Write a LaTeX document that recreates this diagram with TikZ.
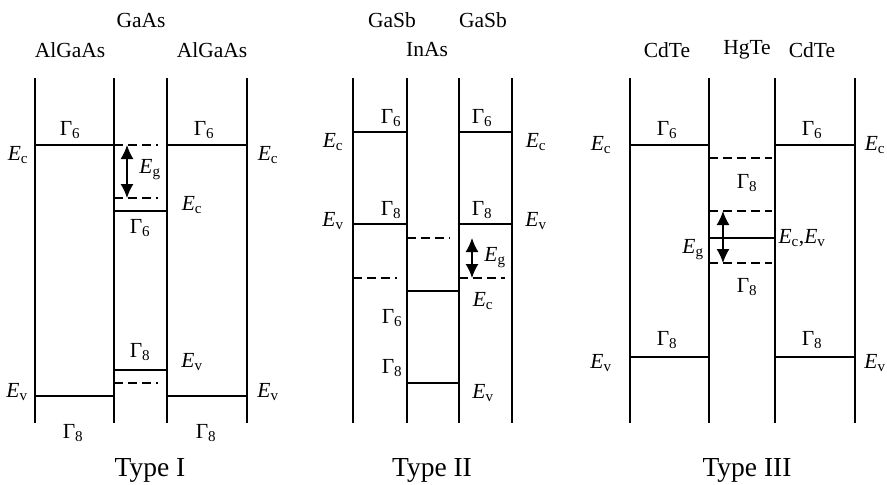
\documentclass[tikz,border=0pt]{standalone}
\usepackage{fontspec}
\setmainfont{Liberation Serif}
\usetikzlibrary{arrows.meta}
\newcommand\Gam[1]{Γ\textsubscript{#1}}
\newcommand\En[1]{\textit{E}\textsubscript{#1}}
\tikzset{
  wall/.style={line width=1.3pt},
  lvl/.style={line width=1.3pt},
  dlvl/.style={line width=1.3pt, dash pattern=on 9pt off 5pt},
  gap/.style={line width=1.5pt, {Latex[length=14pt,width=13pt]}-{Latex[length=14pt,width=13pt]}},
  lab/.style={font=\fontsize{21.5}{25}\selectfont, inner sep=0pt},
  ttl/.style={font=\fontsize{27.5}{32}\selectfont, inner sep=0pt}
}
\begin{document}
\begin{tikzpicture}[x=1pt,y=-1pt]
\useasboundingbox (0,0) rectangle (887,485);

% ---------------- Type I : AlGaAs / GaAs / AlGaAs ----------------
\foreach \x in {35,114,167,247} \draw[wall] (\x,78) -- (\x,423);
\draw[lvl] (35,145) -- (114,145);
\draw[lvl] (167,145) -- (247,145);
\draw[lvl] (114,211) -- (167,211);
\draw[lvl] (114,370) -- (167,370);
\draw[lvl] (35,396) -- (114,396);
\draw[lvl] (167,396) -- (247,396);
\draw[dlvl] (114,145) -- (158,145);
\draw[dlvl] (114,198) -- (158,198);
\draw[dlvl] (114,383) -- (158,383);
\coordinate (g1a) at (127,145);
\coordinate (g1b) at (127,198);
\draw[gap] (g1a) -- (g1b);

\node[lab] (t1m)  at (141,20)  {GaAs};
\node[lab] (t1l)  at (70,50)   {AlGaAs};
\node[lab] (t1r)  at (212,50)  {AlGaAs};
\node[lab] (t1g6l) at (70,130) {\Gam{6}};
\node[lab] (t1g6r) at (204,130) {\Gam{6}};
\node[lab] (t1ecl) at (18,155) {\En{c}};
\node[lab] (t1ecr) at (268,155) {\En{c}};
\node[lab] (t1eg)  at (150,170) {\En{g}};
\node[lab] (t1ecm) at (192,205) {\En{c}};
\node[lab] (t1g6m) at (140,228) {\Gam{6}};
\node[lab] (t1g8m) at (140,352) {\Gam{8}};
\node[lab] (t1evm) at (192,362) {\En{v}};
\node[lab] (t1evl) at (17,392) {\En{v}};
\node[lab] (t1evr) at (268,392) {\En{v}};
\node[lab] (t1g8l) at (73,433) {\Gam{8}};
\node[lab] (t1g8r) at (206,433) {\Gam{8}};
\node[ttl] (t1)    at (150,470) {Type I};

% ---------------- Type II : GaSb / InAs / GaSb ----------------
\foreach \x in {353,407,459,512} \draw[wall] (\x,78) -- (\x,423);
\draw[lvl] (353,132) -- (407,132);
\draw[lvl] (459,132) -- (512,132);
\draw[lvl] (353,224) -- (407,224);
\draw[lvl] (459,224) -- (512,224);
\draw[lvl] (407,291) -- (459,291);
\draw[lvl] (407,383) -- (459,383);
\draw[dlvl] (407,238) -- (450,238);
\draw[dlvl] (353,278) -- (397,278);
\draw[dlvl] (459,278) -- (505,278);
\coordinate (g2a) at (472,238);
\coordinate (g2b) at (472,278);
\draw[gap] (g2a) -- (g2b);

\node[lab] (t2l)  at (392,20) {GaSb};
\node[lab] (t2r)  at (483,20) {GaSb};
\node[lab] (t2m)  at (427,50) {InAs};
\node[lab] (t2g6l) at (391,118) {\Gam{6}};
\node[lab] (t2g6r) at (482,118) {\Gam{6}};
\node[lab] (t2ecl) at (333,142) {\En{c}};
\node[lab] (t2ecr) at (536,142) {\En{c}};
\node[lab] (t2g8l) at (391,210) {\Gam{8}};
\node[lab] (t2g8r) at (482,210) {\Gam{8}};
\node[lab] (t2evl) at (333,221) {\En{v}};
\node[lab] (t2evr) at (536,221) {\En{v}};
\node[lab] (t2eg)  at (495,258) {\En{g}};
\node[lab] (t2ecm) at (483,301) {\En{c}};
\node[lab] (t2g6m) at (392,318) {\Gam{6}};
\node[lab] (t2g8m) at (392,368) {\Gam{8}};
\node[lab] (t2evm) at (483,393) {\En{v}};
\node[ttl] (t2)    at (432,470) {Type II};

% ---------------- Type III : CdTe / HgTe / CdTe ----------------
\foreach \x in {630,709,775,855} \draw[wall] (\x,78) -- (\x,423);
\draw[lvl] (630,145) -- (709,145);
\draw[lvl] (775,145) -- (855,145);
\draw[lvl] (709,238) -- (775,238);
\draw[lvl] (630,357) -- (709,357);
\draw[lvl] (775,357) -- (855,357);
\draw[dlvl] (709,158) -- (772,158);
\draw[dlvl] (709,211) -- (772,211);
\draw[dlvl] (709,263) -- (772,263);
\coordinate (g3a) at (723,211);
\coordinate (g3b) at (723,263);
\draw[gap] (g3a) -- (g3b);

\node[lab] (t3l)  at (667,50) {CdTe};
\node[lab] (t3m)  at (747,50) {HgTe};
\node[lab] (t3r)  at (812,50) {CdTe};
\node[lab] (t3g6l) at (667,130) {\Gam{6}};
\node[lab] (t3g6r) at (812,130) {\Gam{6}};
\node[lab] (t3ecl) at (601,145) {\En{c}};
\node[lab] (t3ecr) at (875,145) {\En{c}};
\node[lab] (t3g8a) at (747,183) {\Gam{8}};
\node[lab] (t3ecv) at (802,238) {\En{c},\En{v}};
\node[lab] (t3eg)  at (693,250) {\En{g}};
\node[lab] (t3g8b) at (747,287) {\Gam{8}};
\node[lab] (t3g8l) at (667,340) {\Gam{8}};
\node[lab] (t3g8r) at (812,340) {\Gam{8}};
\node[lab] (t3evl) at (601,363) {\En{v}};
\node[lab] (t3evr) at (875,363) {\En{v}};
\node[ttl] (t3)    at (747,470) {Type III};
\end{tikzpicture}
\end{document}
